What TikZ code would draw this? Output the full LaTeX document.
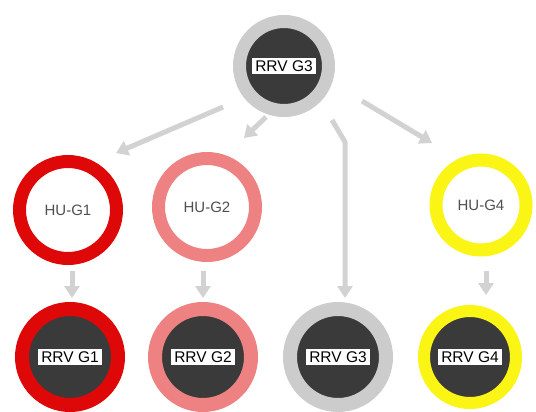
\documentclass[tikz,border=0pt]{standalone}
\usepackage{fontspec}
\setmainfont{Liberation Sans}
\usetikzlibrary{arrows.meta}
\definecolor{darkfill}{RGB}{58,58,58}
\definecolor{ringred}{RGB}{222,8,8}
\definecolor{ringpink}{RGB}{238,130,130}
\definecolor{ringgray}{RGB}{204,204,204}
\definecolor{ringyellow}{RGB}{250,245,20}
\definecolor{arrowgray}{RGB}{210,210,210}
\definecolor{hutext}{RGB}{80,80,80}
\begin{document}
\begin{tikzpicture}[x=1pt,y=-1pt,
  rrv/.style={circle,minimum size=96pt,inner sep=0pt,fill=darkfill,line width=14pt},
  hu/.style={circle,minimum size=97pt,inner sep=0pt,fill=white,line width=13pt,
    font=\fontsize{15}{17}\selectfont,text=hutext},
  lbl/.style={fill=white,inner sep=3pt,text=black,font=\fontsize{15.5}{17}\selectfont},
  conn/.style={draw=arrowgray,line width=5pt,-{Triangle[width=15pt,length=12pt]}}]
\useasboundingbox (0,0) rectangle (536,412);
\fill[white] (0,0) rectangle (536,412);
% top
\node[rrv,draw=ringgray,minimum size=89pt,line width=13pt] (top) at (284,66) {};
\node[lbl] (toplbl) at (top.center) {RRV G3};
% middle row
\node[hu,draw=ringred] (hu1) at (68,210) {HU-G1};
\node[hu,draw=ringpink] (hu2) at (207,207) {HU-G2};
\node[hu,draw=ringyellow,minimum size=90pt] (hu4) at (481,205) {HU-G4};
% bottom row
\node[rrv,draw=ringred] (r1) at (70,357) {};
\node[lbl] (r1lbl) at (r1.center) {RRV G1};
\node[rrv,draw=ringpink] (r2) at (203,357) {};
\node[lbl] (r2lbl) at (r2.center) {RRV G2};
\node[rrv,draw=ringgray] (r3) at (338,357) {};
\node[lbl] (r3lbl) at (r3.center) {RRV G3};
\node[rrv,draw=ringyellow,minimum size=92pt,line width=12pt] (r4) at (470,357) {};
\node[lbl] (r4lbl) at (r4.center) {RRV G4};
% connector end points
\coordinate (a1s) at (223,107); \coordinate (a1e) at (116,153);
\coordinate (a2s) at (266,117); \coordinate (a2e) at (244,138);
\coordinate (a3s) at (332,120); \coordinate (a3m) at (345,142); \coordinate (a3e) at (345,298);
\coordinate (a4s) at (362,101); \coordinate (a4e) at (432,143);
\coordinate (v1s) at (72,271); \coordinate (v1e) at (72,298);
\coordinate (v2s) at (203,271); \coordinate (v2e) at (203,298);
\coordinate (v4s) at (486,271); \coordinate (v4e) at (486,295);
\draw[conn] (a1s) -- (a1e);
\draw[conn] (a2s) -- (a2e);
\draw[conn,line join=round] (a3s) -- (a3m) -- (a3e);
\draw[conn] (a4s) -- (a4e);
\draw[conn] (v1s) -- (v1e);
\draw[conn] (v2s) -- (v2e);
\draw[conn] (v4s) -- (v4e);
\end{tikzpicture}
\end{document}
